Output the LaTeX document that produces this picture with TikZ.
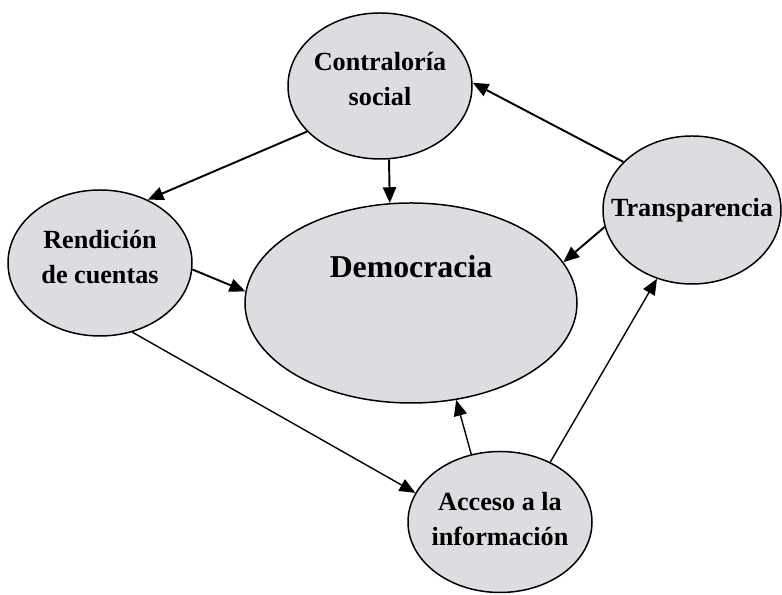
\documentclass[tikz,border=0pt]{standalone}
\usepackage{fontspec}
\setmainfont{Liberation Serif}
\usepackage{tikz}
\usetikzlibrary{arrows.meta}
\usetikzlibrary{shapes.geometric}
\definecolor{bgray}{RGB}{220, 221, 224}
\tikzset{bubble/.style = {draw, fill = bgray, ellipse, line width = 0.85pt, inner sep = 0}}
\tikzset{lbl/.style = {align = center, inner sep = 0, font = \bfseries\fontsize{14.9}{19.8}\selectfont}}
\tikzset{link/.style = {-{Triangle[length = 9pt, width = 7.5pt]}, line width = 1.1pt}}
\tikzset{slink/.style = {link, line width = 0.8pt}}

\begin{document}
\begin{tikzpicture}
    \useasboundingbox (0, 0) rectangle (15.64, 11.9);

    \node [bubble, minimum width = 3.68cm, minimum height = 2.92cm] (contra) at (7.6, 10.18) {};
    \node [bubble, minimum width = 3.68cm, minimum height = 2.92cm] (rend) at (2.0, 6.64) {};
    \node [bubble, minimum width = 6.64cm, minimum height = 4.0cm] (demo) at (8.22, 5.84) {};
    \node [bubble, minimum width = 3.68cm, minimum height = 2.82cm] (acceso) at (10.0, 1.46) {};
    \node [bubble, minimum width = 3.56cm, minimum height = 2.96cm] (transp) at (13.84, 7.7) {};

    \node [lbl] (contra-t) at ([yshift = 0.14cm] contra.center) {Contraloría\\social};
    \node [lbl] (rend-t) at ([yshift = 0.12cm] rend.center) {Rendición\\de cuentas};
    \node [lbl, font = \bfseries\fontsize{18.1}{22}\selectfont] (demo-t) at ([yshift = 0.72cm] demo.center) {Democracia};
    \node [lbl] (acceso-t) at ([yshift = 0.06cm] acceso.center) {Acceso a la\\información};
    \node [lbl] (transp-t) at (transp.center) {Transparencia};

    \draw [link] (contra.212) -- (rend.53);
    \draw [link] (contra.277) -- (demo.102);
    \draw [link] (transp.145) -- (contra.2);
    \draw [link] (transp.191) -- (demo.15);
    \draw [link] (rend.356) -- (demo.176);

    \draw [slink] (rend.295) -- (acceso.161);
    \draw [slink] (acceso.113) -- (demo.295);
    \draw [slink] (acceso.50) -- (transp.243);
\end{tikzpicture}
\end{document}
